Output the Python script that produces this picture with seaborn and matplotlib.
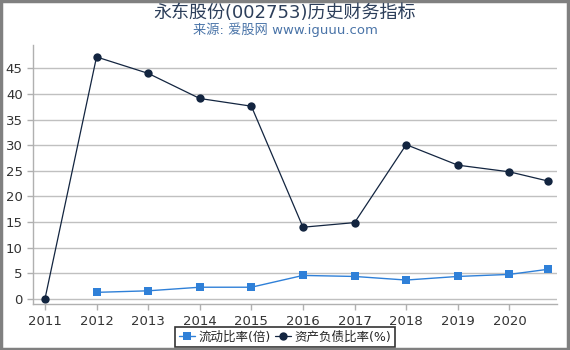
import matplotlib
matplotlib.use("Agg")
import matplotlib.pyplot as plt
import seaborn as sns
import pandas as pd
from matplotlib.patches import Rectangle

# data
years = [2011, 2012, 2013, 2014, 2015, 2016, 2017, 2018, 2019, 2020, 2020.75]
current_ratio = [None, 1.3, 1.6, 2.3, 2.3, 4.6, 4.4, 3.7, 4.4, 4.8, 5.8]
debt_ratio = [0.0, 47.2, 44.0, 39.1, 37.6, 14.0, 14.9, 30.1, 26.1, 24.8, 23.0]
tick_years = [2011, 2012, 2013, 2014, 2015, 2016, 2017, 2018, 2019, 2020]

sns.set_theme(style="white")
plt.rcParams["font.family"] = ["DejaVu Sans", "Noto Sans CJK SC"]

df = pd.DataFrame({"year": years, "cur": current_ratio, "debt": debt_ratio})
df["cur"] = pd.to_numeric(df["cur"])

fig = plt.figure(figsize=(5.7, 3.5), dpi=100)
ax = fig.add_axes([0.058, 0.131, 0.919, 0.74])

sns.lineplot(data=df, x="year", y="cur", ax=ax, color="#2f80d8", marker="s",
             markersize=6, markeredgewidth=0, linewidth=1,
             label="流动比率(倍)")
sns.lineplot(data=df, x="year", y="debt", ax=ax, color="#132540", marker="o",
             markersize=6, markeredgewidth=0, linewidth=0.9,
             label="资产负债比率(%)")

ax.set_xlim(2010.77, 2020.92)
ax.set_ylim(-1, 49.5)
ax.set_xticks(tick_years)
ax.set_xticklabels([str(y) for y in tick_years])
ax.set_yticks(range(0, 50, 5))
ax.set_xlabel("")
ax.set_ylabel("")
ax.yaxis.grid(True, color="#c0c0c0", linewidth=1)
ax.set_axisbelow(True)
for s in ["top", "right"]:
    ax.spines[s].set_visible(False)
for s in ["left", "bottom"]:
    ax.spines[s].set_color("#b0b0b0")
    ax.spines[s].set_linewidth(1)
ax.tick_params(axis="both", colors="#b0b0b0", labelcolor="#333333",
               labelsize=9.5, length=4, width=1, direction="out",
               bottom=True, left=True)

leg = ax.legend(loc="center", bbox_to_anchor=(0.5, 0.037),
                bbox_transform=fig.transFigure, ncol=2, fontsize=9,
                frameon=True, fancybox=False, handlelength=1.3,
                handletextpad=0.3, columnspacing=0.3, borderpad=0.3)
leg.get_frame().set_edgecolor("black")
leg.get_frame().set_linewidth(1.2)

fig.text(0.5, 0.963, "永东股份(002753)历史财务指标", ha="center", va="center",
         fontsize=13, color="#2c3e5a")
fig.text(0.5, 0.916, "来源: 爱股网 www.iguuu.com", ha="center", va="center",
         fontsize=9.5, color="#4a74a8")

fig.patches.append(Rectangle((0.001, 0.004), 0.995, 0.994, transform=fig.transFigure,
                             fill=False, edgecolor="#808080", linewidth=2.5))

fig.savefig("out.png", dpi=100)
